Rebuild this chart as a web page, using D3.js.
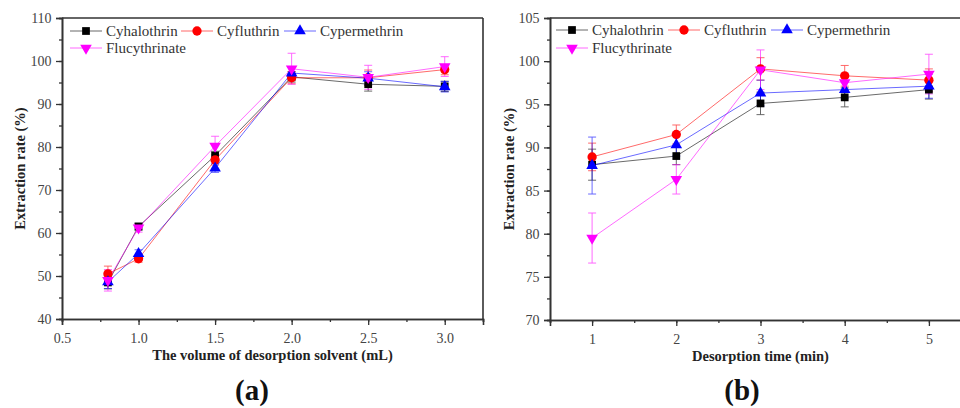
<!DOCTYPE html>
<html><head><meta charset="utf-8">
<script src="https://cdn.jsdelivr.net/npm/d3@7"></script>
<style>body{margin:0;background:#fff}svg{display:block}</style>
</head><body>
<svg id="c" width="960" height="408"></svg>
<script>
// ---------- data ----------
const seriesNames = ["Cyhalothrin","Cyfluthrin","Cypermethrin","Flucythrinate"];
const seriesColors = ["#000000","#ff0000","#0000ff","#ff00ff"];
const seriesShapes = ["square","circle","triangle","triangleDown"];

// panel (a)
const xA = [0.8, 1.0, 1.5, 2.0, 2.5, 3.0];
const aCyhalothrin   = [48.5, 61.5, 78.0, 96.3, 94.6, 94.1];
const aCyfluthrin    = [50.5, 54.0, 77.0, 96.1, 96.1, 98.0];
const aCypermethrin  = [48.6, 55.2, 75.1, 97.2, 96.0, 94.0];
const aFlucythrinate = [49.0, 61.2, 80.2, 98.2, 96.2, 98.7];
const aErrCyhalothrin   = [1.5, 0.8, 1.0, 1.2, 1.6, 1.2];
const aErrCyfluthrin    = [1.8, 0.8, 1.2, 1.4, 1.8, 1.2];
const aErrCypermethrin  = [1.5, 0.9, 1.0, 1.3, 1.5, 1.2];
const aErrFlucythrinate = [2.5, 1.0, 2.3, 3.6, 2.8, 2.3];
const aXTicks = [0.5, 1.0, 1.5, 2.0, 2.5, 3.0];
const aYTicks = [40, 50, 60, 70, 80, 90, 100, 110];

// panel (b)
const xB = [1, 2, 3, 4, 5];
const bCyhalothrin   = [88.0, 89.0, 95.1, 95.8, 96.7];
const bCyfluthrin    = [88.9, 91.5, 99.1, 98.3, 97.8];
const bCypermethrin  = [87.9, 90.3, 96.3, 96.7, 97.1];
const bFlucythrinate = [79.5, 86.3, 99.0, 97.5, 98.5];
const bErrCyhalothrin   = [1.8, 1.0, 1.3, 1.1, 1.1];
const bErrCyfluthrin    = [1.6, 1.1, 1.3, 1.2, 1.3];
const bErrCypermethrin  = [3.3, 1.3, 1.5, 1.0, 1.4];
const bErrFlucythrinate = [2.9, 1.7, 2.3, 1.0, 2.3];
const bXTicks = [1, 2, 3, 4, 5];
const bYTicks = [70, 75, 80, 85, 90, 95, 100, 105];

const yLabel = "Extraction rate (%)";
const aXLabel = "The volume of desorption solvent (mL)";
const bXLabel = "Desorption time (min)";

// ---------- drawing ----------
const svg = d3.select("#c");
const FONT = '"Liberation Serif"';

function symbolPath(shape){
  const s = {square:[d3.symbolSquare,60], circle:[d3.symbolCircle,68], triangle:[d3.symbolTriangle,58], triangleDown:[d3.symbolTriangle,58]}[shape];
  return d3.symbol().type(s[0]).size(s[1])();
}

function panel(cfg){
  const g = svg.append("g");
  const x = d3.scaleLinear().domain(cfg.xDomain).range(cfg.xRange);
  const y = d3.scaleLinear().domain(cfg.yDomain).range([cfg.bottom, cfg.top]);
  const clipId = "clip"+cfg.id;
  svg.append("clipPath").attr("id",clipId).append("rect")
    .attr("x",cfg.xRange[0]).attr("y",cfg.top-12)
    .attr("width",cfg.xRange[1]-cfg.xRange[0]).attr("height",cfg.bottom-cfg.top+12);

  g.append("line").attr("x1",cfg.xRange[0]).attr("x2",cfg.xRange[1]).attr("y1",cfg.top).attr("y2",cfg.top)
    .attr("stroke","#333").attr("stroke-width",1.6);
  g.append("line").attr("x1",cfg.xRange[1]).attr("x2",cfg.xRange[1]).attr("y1",cfg.top).attr("y2",cfg.bottom)
    .attr("stroke","#333").attr("stroke-width",1.6);

  const xMinor = d3.range(cfg.xDomain[0], cfg.xDomain[1]+1e-9, cfg.xMinorStep);
  const yMinor = d3.range(cfg.yDomain[0], cfg.yDomain[1]+1e-9, cfg.yMinorStep);
  const gx = g.append("g").attr("transform",`translate(0,${cfg.bottom})`);
  gx.call(d3.axisBottom(x).tickValues(xMinor).tickSize(3).tickFormat(""));
  gx.call(g2=>g2.append("g").call(d3.axisBottom(x).tickValues(cfg.xTicks).tickSize(6).tickFormat(cfg.xFmt)));
  const gy = g.append("g").attr("transform",`translate(${cfg.xRange[0]},0)`);
  gy.call(d3.axisLeft(y).tickValues(yMinor).tickSize(3).tickFormat(""));
  gy.call(g2=>g2.append("g").call(d3.axisLeft(y).tickValues(cfg.yTicks).tickSize(6).tickFormat(d3.format("d"))));
  g.selectAll(".domain").attr("stroke","#333").attr("stroke-width",1.6);
  g.selectAll(".tick line").attr("stroke","#333").attr("stroke-width",1.3);
  g.selectAll(".tick text").style("font-family",FONT).attr("font-size",14).attr("fill","#444");
  gx.selectAll(".tick text").attr("dy","1.05em");
  gy.selectAll(".tick text").attr("dx","-0.1em");

  g.append("text").attr("x",(cfg.xRange[0]+cfg.labelRight)/2).attr("y",cfg.bottom+41)
    .attr("text-anchor","middle").style("font-family",FONT).attr("font-weight","bold").attr("font-size",14.5)
    .attr("fill","#222").text(cfg.xLabel);
  g.append("text").attr("transform",`translate(${cfg.yLabelX},${(cfg.top+cfg.bottom)/2}) rotate(-90)`)
    .attr("text-anchor","middle").style("font-family",FONT).attr("font-weight","bold").attr("font-size",14.5)
    .attr("fill","#222").text(yLabel);
  g.append("text").attr("x",cfg.tagX).attr("y",400).attr("text-anchor","middle")
    .style("font-family",FONT).attr("font-weight","bold").attr("font-size",29).attr("fill","#111").text(cfg.tag);

  const plot = g.append("g").attr("clip-path",`url(#${clipId})`);
  cfg.series.forEach((vals,i)=>{
    const col = seriesColors[i];
    const pts = cfg.xs.map((xv,j)=>({x:xv,y:vals[j],e:cfg.errs[i][j]}));
    plot.append("path").datum(pts).attr("fill","none").attr("stroke",col).attr("stroke-width",0.9).attr("opacity",0.65)
      .attr("d",d3.line().x(d=>x(d.x)).y(d=>y(d.y)));
    const eb = plot.append("g").attr("stroke",col).attr("stroke-width",0.9).attr("opacity",0.65);
    pts.forEach(d=>{
      eb.append("line").attr("x1",x(d.x)).attr("x2",x(d.x)).attr("y1",y(d.y-d.e)).attr("y2",y(d.y+d.e));
      [d.y-d.e,d.y+d.e].forEach(v=>eb.append("line").attr("x1",x(d.x)-4).attr("x2",x(d.x)+4).attr("y1",y(v)).attr("y2",y(v)));
    });
  });
  cfg.series.forEach((vals,i)=>{
    const col = seriesColors[i];
    plot.append("g").selectAll("path").data(cfg.xs.map((xv,j)=>[xv,vals[j]])).join("path")
      .attr("d",symbolPath(seriesShapes[i]))
      .attr("transform",d=>`translate(${x(d[0])},${y(d[1])})${seriesShapes[i]==="triangleDown"?" rotate(180)":""}`)
      .attr("fill",col);
  });

  const lg = g.append("g");
  cfg.legend.forEach((p,i)=>{
    const col = seriesColors[i];
    lg.append("line").attr("x1",p[0]-16).attr("x2",p[0]+16).attr("y1",p[1]).attr("y2",p[1])
      .attr("stroke",col).attr("stroke-width",0.9).attr("opacity",0.65);
    lg.append("path").attr("d",symbolPath(seriesShapes[i]))
      .attr("transform",`translate(${p[0]},${p[1]})${seriesShapes[i]==="triangleDown"?" rotate(180)":""}`).attr("fill",col);
    lg.append("text").attr("x",p[0]+20).attr("y",p[1]+5).style("font-family",FONT).attr("font-size",15)
      .attr("fill","#333").text(seriesNames[i]);
  });
}

panel({
  id:"a", xDomain:[0.5,3.25], xRange:[62,483], yDomain:[40,110], top:18, bottom:319,
  xTicks:aXTicks, yTicks:aYTicks, xMinorStep:0.25, yMinorStep:5, xFmt:d3.format(".1f"),
  xs:xA, series:[aCyhalothrin,aCyfluthrin,aCypermethrin,aFlucythrinate],
  errs:[aErrCyhalothrin,aErrCyfluthrin,aErrCypermethrin,aErrFlucythrinate],
  xLabel:aXLabel, labelRight:483, yLabelX:25, tag:"(a)", tagX:252,
  legend:[[86,31],[197,31],[300,31],[86,48]]
});
panel({
  id:"b", xDomain:[0.5,5.5], xRange:[550,971], yDomain:[70,105], top:18, bottom:320,
  xTicks:bXTicks, yTicks:bYTicks, xMinorStep:0.5, yMinorStep:2.5, xFmt:d3.format("d"),
  xs:xB, series:[bCyhalothrin,bCyfluthrin,bCypermethrin,bFlucythrinate],
  errs:[bErrCyhalothrin,bErrCyfluthrin,bErrCypermethrin,bErrFlucythrinate],
  xLabel:bXLabel, labelRight:971, yLabelX:514, tag:"(b)", tagX:742,
  legend:[[572,30],[684,30],[787,30],[572,48]]
});
</script>
</body></html>
